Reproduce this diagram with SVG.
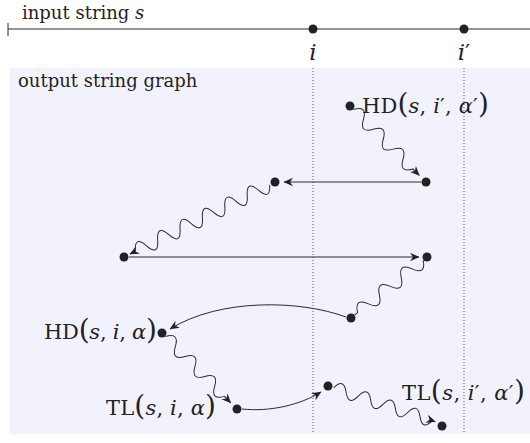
<svg xmlns="http://www.w3.org/2000/svg" width="530" height="443" viewBox="0 0 530 443">
<style>
.t{font-family:"DejaVu Serif","Liberation Serif",serif;fill:#222}
.s{font-size:18px}
.m{font-size:21px}
.it{font-style:italic}
.p{font-size:28px}
.ln{stroke:#2a2a2a;stroke-width:1;fill:none}
.dot{fill:#222}
.grid{stroke:#555;stroke-width:1;stroke-dasharray:1 2;fill:none}
.arr{marker-end:url(#ah)}
</style>
<defs>
<marker id="ah" markerUnits="userSpaceOnUse" viewBox="-10 -5 11 10" refX="0" refY="0" markerWidth="11" markerHeight="10" orient="auto"><path d="M0.5,0 L-9,-4.2 L-6,0 L-9,4.2 Z" fill="#222"/></marker>
</defs>
<rect x="10" y="68" width="520" height="366" fill="#f2f2fc"/>
<g id="input-string">
<line class="ln" x1="8" y1="29" x2="530" y2="29"/>
<line class="ln" x1="8" y1="23" x2="8" y2="36"/>
<text class="t s" x="22" y="19">input string <tspan class="it">s</tspan></text>
<circle class="dot" cx="313" cy="29" r="4.5"/>
<circle class="dot" cx="464" cy="29" r="4.5"/>
<text class="t it" font-size="23" x="313" y="60" text-anchor="middle">i</text>
<text class="t" font-size="23" x="464" y="60" text-anchor="middle"><tspan class="it">i</tspan>′</text>
</g>
<g id="grid">
<line class="grid" x1="313" y1="68" x2="313" y2="434"/>
<line class="grid" x1="464" y1="68" x2="464" y2="434"/>
</g>
<text class="t s" x="18" y="87">output string graph</text>
<g id="connectors">
<g transform="translate(350,106) rotate(45)"><path class="ln arr" d="M5,0 q7,-13 14,0 t14,0 t14,0 t14,0 t14,0 t14,0 l9,0"/></g>
<line class="ln arr" x1="421" y1="182" x2="284" y2="182"/>
<g transform="translate(275,182) rotate(153.6)"><path class="ln arr" d="M6,0 q6.25,-15 12.5,0 t12.5,0 t12.5,0 t12.5,0 t12.5,0 t12.5,0 t12.5,0 t12.5,0 t12.5,0 t12.5,0 t12.5,0 t12.5,0 l6,0"/></g>
<line class="ln arr" x1="129" y1="257" x2="419" y2="257"/>
<g transform="translate(427,257) rotate(141.3)"><path class="ln" d="M5,0 q7,-14 14,0 t14,0 t14,0 t14,0 t14,0 t14,0 l4,0"/></g>
<path class="ln arr" d="M346,317 C300,300 220,298 170,329"/>
<g transform="translate(162,333) rotate(45.4)"><path class="ln arr" d="M5,0 q7,-13 14,0 t14,0 t14,0 t14,0 t14,0 t14,0 l9,0"/></g>
<path class="ln arr" d="M242,409 C270,412 300,405 321,392"/>
<g transform="translate(328,386) rotate(18.4)"><path class="ln arr" d="M6,0 q6.5,-13 13,0 t13,0 t13,0 t13,0 t13,0 t13,0 t13,0 t13,0 l3,0"/></g>
</g>
<g id="n-hd-ip">
<circle class="dot" cx="350" cy="106" r="4.5"/>
<text class="t m" x="362" y="113" textLength="127" lengthAdjust="spacing">HD<tspan class="p">(</tspan><tspan class="it">s</tspan>, <tspan class="it">i</tspan>′, <tspan class="it">α</tspan>′<tspan class="p">)</tspan></text>
</g>
<g id="n-b"><circle class="dot" cx="426" cy="182" r="4.5"/></g>
<g id="n-c"><circle class="dot" cx="275" cy="182" r="4.5"/></g>
<g id="n-d"><circle class="dot" cx="124" cy="257" r="4.5"/></g>
<g id="n-e"><circle class="dot" cx="427" cy="257" r="4.5"/></g>
<g id="n-f"><circle class="dot" cx="351" cy="318" r="4.5"/></g>
<g id="n-hd-i">
<circle class="dot" cx="162" cy="333" r="4.5"/>
<text class="t m" x="44" y="339" textLength="113" lengthAdjust="spacing">HD<tspan class="p">(</tspan><tspan class="it">s</tspan>, <tspan class="it">i</tspan>, <tspan class="it">α</tspan><tspan class="p">)</tspan></text>
</g>
<g id="n-tl-i">
<circle class="dot" cx="237" cy="409" r="4.5"/>
<text class="t m" x="106" y="415" textLength="110" lengthAdjust="spacing">TL<tspan class="p">(</tspan><tspan class="it">s</tspan>, <tspan class="it">i</tspan>, <tspan class="it">α</tspan><tspan class="p">)</tspan></text>
</g>
<g id="n-i"><circle class="dot" cx="328" cy="386" r="4.5"/></g>
<g id="n-tl-ip">
<circle class="dot" cx="442" cy="426" r="4.5"/>
<text class="t m" x="402" y="400" textLength="123" lengthAdjust="spacing">TL<tspan class="p">(</tspan><tspan class="it">s</tspan>, <tspan class="it">i</tspan>′, <tspan class="it">α</tspan>′<tspan class="p">)</tspan></text>
</g>
</svg>
